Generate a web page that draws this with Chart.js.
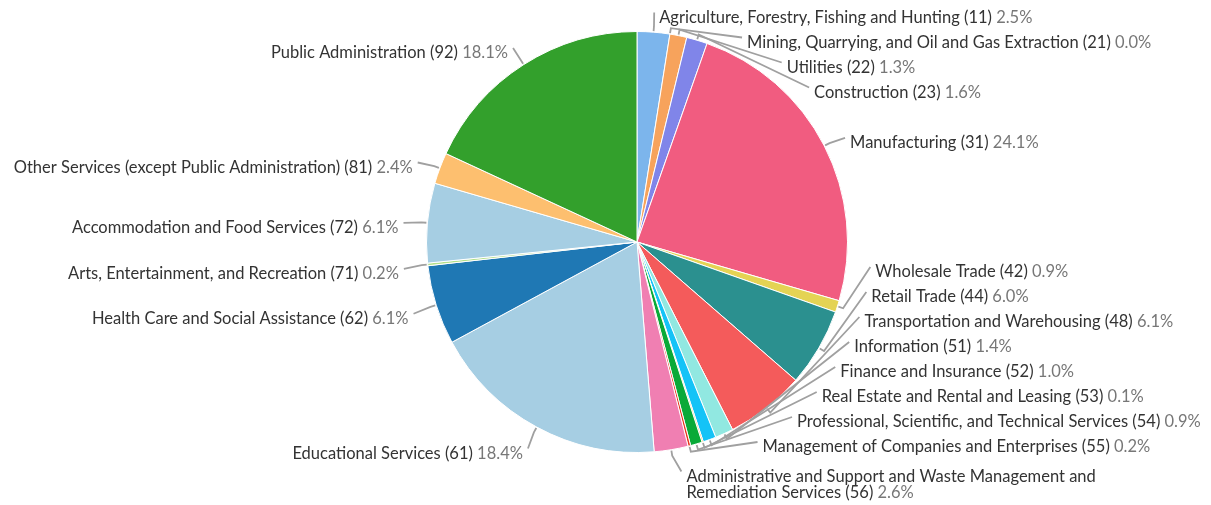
<!DOCTYPE html>
<html>
<head>
<meta charset="utf-8">
<script src="https://cdn.jsdelivr.net/npm/chart.js@4"></script>
<style>
  html, body { margin: 0; padding: 0; background: #fff; }
  #wrap { width: 1211px; height: 505px; }
</style>
</head>
<body>
<div id="wrap"><canvas id="IndustryChart" width="1211" height="505"></canvas></div>
<script>
const industries = [
  "Agriculture, Forestry, Fishing and Hunting",
  "Mining, Quarrying, and Oil and Gas Extraction",
  "Utilities",
  "Construction",
  "Manufacturing",
  "Wholesale Trade",
  "Retail Trade",
  "Transportation and Warehousing",
  "Information",
  "Finance and Insurance",
  "Real Estate and Rental and Leasing",
  "Professional, Scientific, and Technical Services",
  "Management of Companies and Enterprises",
  "Administrative and Support and Waste Management and Remediation Services",
  "Educational Services",
  "Health Care and Social Assistance",
  "Arts, Entertainment, and Recreation",
  "Accommodation and Food Services",
  "Other Services (except Public Administration)",
  "Public Administration"
];
const naicsCodes = [11, 21, 22, 23, 31, 42, 44, 48, 51, 52, 53, 54, 55, 56, 61, 62, 71, 72, 81, 92];
const sharePct = [2.5, 0.0, 1.3, 1.6, 24.1, 0.9, 6.0, 6.1, 1.4, 1.0, 0.1, 0.9, 0.2, 2.6, 18.4, 6.1, 0.2, 6.1, 2.4, 18.1];
const sliceColors = [
  "#7cb5ec", "#434348", "#f7a35c", "#8085e9", "#f15c80", "#e4d354", "#2b908f", "#f45b5b",
  "#91e8e1", "#14c3f7", "#ff9c1a", "#0aaa38", "#e8361e", "#f07fb2", "#a6cee3", "#1f78b4",
  "#b2df8a", "#a6cee3", "#fdbf6f", "#33a02c"
];

const labelFont = "16.5px Lato";
const nameColor = "#333333";
const pctColor = "#777777";
const lineColor = "#a0a0a0";

// etiquetas exteriores con lineas guia
const outerLabels = {
  id: "outerLabels",
  afterDraw(chart) {
    const ctx = chart.ctx;
    const arcs = chart.getDatasetMeta(0).data;
    if (!arcs.length) return;
    const cx = arcs[0].x, cy = arcs[0].y, r = arcs[0].outerRadius;
    const ax = r + 29, by = r + 22, ly = cy + 7;
    const top = 5, bottom = chart.height;
    const wrapW = 440;
    ctx.save();
    ctx.font = labelFont;

    const items = arcs.map((arc, i) => {
      const mid = (arc.startAngle + arc.endAngle) / 2;
      const pct = sharePct[i].toFixed(1) + "%";
      const words = (industries[i] + " (" + naicsCodes[i] + ") " + pct).split(" ");
      const lines = [];
      let cur = "";
      words.forEach(w => {
        const test = cur ? cur + " " + w : w;
        if (cur && ctx.measureText(test).width > wrapW) { lines.push(cur); cur = w; }
        else cur = test;
      });
      lines.push(cur);
      const n = lines.length;
      return {
        i, mid, lines,
        right: Math.cos(mid) >= 0,
        y: ly + by * Math.sin(mid),
        above: 12.5 + (n - 1) * 4.5,
        below: 12.5 + (n - 1) * 16
      };
    });

    const place = list => {
      for (let k = 0; k < list.length; k++) {
        const it = list[k];
        if (k === 0) it.y = Math.max(it.y, top + it.above);
        else it.y = Math.max(it.y, list[k - 1].y + list[k - 1].below + it.above);
      }
      for (let k = list.length - 1; k >= 0; k--) {
        const it = list[k];
        if (k === list.length - 1) it.y = Math.min(it.y, bottom - it.below);
        else it.y = Math.min(it.y, list[k + 1].y - list[k + 1].above - it.below);
      }
    };
    const rightSide = items.filter(d => d.right).sort((a, b) => a.mid - b.mid);
    const leftSide = items.filter(d => !d.right).sort((a, b) => b.mid - a.mid);
    place(rightSide);
    place(leftSide);

    items.forEach(it => {
      const dy = (it.y - ly) / by;
      const dx = ax * Math.sqrt(Math.max(1 - dy * dy, 0));
      const x = it.right ? cx + dx : cx - dx;

      // linea guia
      ctx.strokeStyle = lineColor;
      ctx.lineWidth = 1.8;
      ctx.beginPath();
      ctx.moveTo(cx + Math.cos(it.mid) * (r + 1), cy + Math.sin(it.mid) * (r + 1));
      ctx.lineTo(cx + Math.cos(it.mid) * (r + 6), cy + Math.sin(it.mid) * (r + 6));
      ctx.lineTo(it.right ? x - 5 : x + 5, it.y - 5);
      ctx.stroke();

      ctx.textBaseline = "middle";
      it.lines.forEach((line, k) => {
        const ty = it.y + k * 16;
        const last = k === it.lines.length - 1;
        let name = line, pct = "";
        if (last) {
          const cut = line.lastIndexOf(" ");
          name = line.slice(0, cut + 1);
          pct = line.slice(cut + 1);
        }
        const wName = ctx.measureText(name).width;
        const wAll = wName + ctx.measureText(pct).width;
        const x0 = it.right ? x : x - wAll;
        ctx.textAlign = "left";
        ctx.fillStyle = nameColor;
        ctx.fillText(name, x0, ty);
        if (pct) {
          ctx.fillStyle = pctColor;
          ctx.fillText(pct, x0 + wName, ty);
        }
      });
    });
    ctx.restore();
  }
};

let industryCanvas = document.getElementById("IndustryChart").getContext("2d");
let industryChart = new Chart(industryCanvas, {
  type: "pie",
  data: {
    labels: industries,
    datasets: [{
      data: sharePct,
      backgroundColor: sliceColors,
      borderColor: "#ffffff",
      borderWidth: 1
    }]
  },
  options: {
    responsive: false,
    animation: false,
    layout: { padding: { left: 63, right: 0, top: 31, bottom: 52 } },
    plugins: {
      legend: { display: false },
      tooltip: { enabled: false }
    }
  },
  plugins: [outerLabels]
});
</script>
</body>
</html>
